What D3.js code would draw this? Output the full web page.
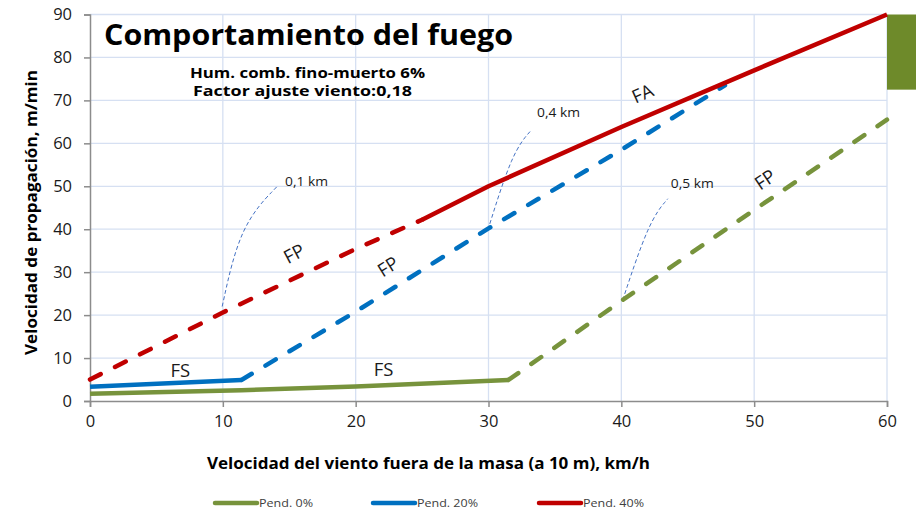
<!DOCTYPE html>
<html><head><meta charset="utf-8">
<script src="https://cdn.jsdelivr.net/npm/d3@7"></script>
<style>
body{margin:0;background:#fff;}
svg{display:block;font-family:"Open Sans",sans-serif;}
</style></head>
<body>
<svg id="c" width="916" height="512"></svg>
<script>
// ---- data ----
const xTicks = [0,10,20,30,40,50,60];
const yTicks = [0,10,20,30,40,50,60,70,80,90];
const seriesNames = ["Pend. 0%","Pend. 20%","Pend. 40%"];
const seriesColors = ["#77933C","#0070C0","#C00000"];
// Pend. 0%
const green_FS = [[0,1.7],[11.4,2.5],[20,3.4],[31.5,4.9]];
const green_FP = [[31.5,4.9],[40,23.3],[50,44.5],[60,65.5]];
// Pend. 20%
const blue_FS = [[0,3.3],[11.4,4.9]];
const blue_FP = [[11.4,4.9],[20,20.8],[30,40.2],[40,58.5],[47.8,73.5]];
// Pend. 40%
const red_FP = [[0,5],[10,20.6],[20,35.4],[25,42.2]];
const red_FA = [[25,42.2],[30,50],[40,63.8],[50,77],[60,90]];
// distance annotations (curve points and label anchor, data units)
const distNotes = [
  {label:"0,1 km", pts:[[9.95,22],[11.3,41],[14.1,50]], at:[14.68,50.1]},
  {label:"0,4 km", pts:[[29.95,39.8],[31.8,58],[33.2,63]], at:[33.66,66.2]},
  {label:"0,5 km", pts:[[40.1,23.5],[42.1,42],[43.5,47.1]], at:[43.73,49.7]}
];
// regime labels: [text, x, y, rotation]
const regimeLabels = [
  ["FS",6.8,5.6,0],["FS",22.1,5.8,0],
  ["FP",15.6,33,-28],["FP",22.7,30,-32],["FP",51.1,50.3,-34],["FA",41.8,70.2,-24]
];

// ---- layout ----
const svg = d3.select("#c");
const x = d3.scaleLinear().domain([0,60]).range([90,887]);
const y = d3.scaleLinear().domain([0,90]).range([401,14.5]);

// gridlines
const grid = svg.append("g");
grid.selectAll("line.h").data(yTicks.filter(d=>d>0)).join("line")
  .attr("x1",x(0)).attr("x2",x(60)).attr("y1",d=>y(d)).attr("y2",d=>y(d))
  .attr("stroke","#D6E0F2").attr("stroke-width",1.3);
grid.selectAll("line.v").data(xTicks.filter(d=>d>0)).join("line")
  .attr("y1",y(0)).attr("y2",y(90)).attr("x1",d=>x(d)).attr("x2",d=>x(d))
  .attr("stroke","#D6E0F2").attr("stroke-width",1.3);

// green block at right
svg.append("rect").attr("x",x(60)).attr("y",y(90)).attr("width",916-x(60)).attr("height",y(72.5)-y(90))
  .attr("fill","#6E8A2A");

// axes
const xAxis = svg.append("g").attr("transform",`translate(0,${y(0)})`)
  .call(d3.axisBottom(x).tickValues(xTicks).tickSize(6).tickPadding(8));
const yAxis = svg.append("g").attr("transform",`translate(${x(0)},0)`)
  .call(d3.axisLeft(y).tickValues(yTicks).tickSize(6).tickPadding(12));
[xAxis,yAxis].forEach(a=>{
  a.select(".domain").attr("stroke","#8C8C8C").attr("stroke-width",1.5);
  a.selectAll(".tick line").attr("stroke","#8C8C8C").attr("stroke-width",1.5);
  a.selectAll("text").attr("font-family","'Open Sans',sans-serif").attr("font-size",16.5).attr("fill","#1a1a1a");
});

function fitText(sel, len){ return sel.attr("textLength",len).attr("lengthAdjust","spacingAndGlyphs"); }

// annotation curves
const curve = d3.line().x(d=>x(d[0])).y(d=>y(d[1])).curve(d3.curveBundle.beta(1));
distNotes.forEach(n=>{
  svg.append("path").attr("d",curve(n.pts)).attr("fill","none")
    .attr("stroke","#4472C4").attr("stroke-width",1).attr("stroke-dasharray","4,2.5");
  fitText(svg.append("text").attr("x",x(n.at[0])).attr("y",y(n.at[1])).text(n.label)
    .attr("font-size",12.5).attr("fill","#1a1a1a"),43);
});

// series lines
const line = d3.line().x(d=>x(d[0])).y(d=>y(d[1]));
const segs = [
  [green_FS,0,false],[green_FP,0,true],
  [blue_FS,1,false],[blue_FP,1,true],
  [red_FP,2,true],[red_FA,2,false]
];
segs.forEach(([data,ci,dashed])=>{
  svg.append("path").attr("d",line(data)).attr("fill","none")
    .attr("stroke",seriesColors[ci]).attr("stroke-width",4.5)
    .attr("stroke-linejoin","round")
    .attr("stroke-linecap",dashed?"round":"butt")
    .attr("stroke-dasharray",dashed?"12,16":null);
});

// regime labels
regimeLabels.forEach(([t,vx,vy,r])=>{
  svg.append("text").attr("transform",`translate(${x(vx)},${y(vy)}) rotate(${r})`)
    .attr("text-anchor","middle").attr("font-size",18.5).attr("fill","#1a1a1a").text(t);
});

// title & subtitles
fitText(svg.append("text").attr("x",104).attr("y",45)
  .attr("font-size",28.5).attr("font-weight","bold").attr("fill","#000").text("Comportamiento del fuego"),409);
fitText(svg.append("text").attr("x",190).attr("y",78)
  .attr("font-size",14).attr("font-weight","bold").attr("fill","#000").text("Hum. comb. fino-muerto 6%"),235);
fitText(svg.append("text").attr("x",193).attr("y",96)
  .attr("font-size",14).attr("font-weight","bold").attr("fill","#000").text("Factor ajuste viento:0,18"),219);

// axis titles
fitText(svg.append("text").attr("transform","translate(37,355) rotate(-90)")
  .attr("font-size",15.5).attr("font-weight","bold").attr("fill","#000").text("Velocidad de propagación, m/min"),285);
fitText(svg.append("text").attr("x",207).attr("y",469)
  .attr("font-size",15.5).attr("font-weight","bold").attr("fill","#000").text("Velocidad del viento fuera de la masa (a 10 m), km/h"),443);

// legend
const legX = [215,373,539];
const legW = [54,61,61];
seriesNames.forEach((n,i)=>{
  const g = svg.append("g").attr("transform",`translate(${legX[i]},503)`);
  g.append("line").attr("x1",0).attr("x2",42).attr("y1",0).attr("y2",0)
    .attr("stroke",seriesColors[i]).attr("stroke-width",4.5).attr("stroke-linecap","round");
  fitText(g.append("text").attr("x",44).attr("y",4).attr("font-size",11.5).attr("fill","#404040").text(n),legW[i]);
});
</script>
</body></html>
